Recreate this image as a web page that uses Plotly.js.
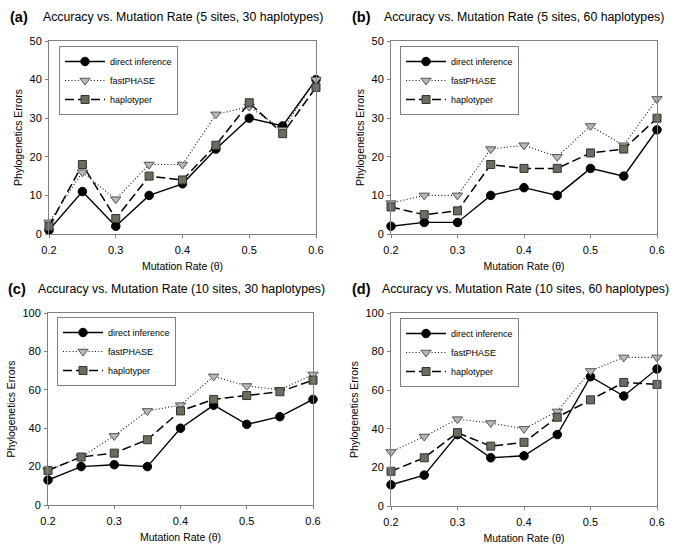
<!DOCTYPE html>
<html><head><meta charset="utf-8">
<script src="https://cdn.plot.ly/plotly-3.0.1.min.js"></script>
<style>html,body{margin:0;padding:0;background:#fff}</style>
</head><body><div id="chart" style="width:685px;height:548px"></div>
<script>
// ---- data ----
const mutationRate = [0.2, 0.25, 0.3, 0.35, 0.4, 0.45, 0.5, 0.55, 0.6];
const seriesNames = ['direct inference', 'fastPHASE', 'haplotyper'];
const panelLabels = ['(a)', '(b)', '(c)', '(d)'];
const panelTitles = [
  'Accuracy vs. Mutation Rate (5 sites, 30 haplotypes)',
  'Accuracy vs. Mutation Rate (5 sites, 60 haplotypes)',
  'Accuracy vs. Mutation Rate (10 sites, 30 haplotypes)',
  'Accuracy vs. Mutation Rate (10 sites, 60 haplotypes)'
];
const xTickVals = [0.2, 0.3, 0.4, 0.5, 0.6];
const yMaxSmall = 50, yMaxLarge = 100;

const directA = [1, 11, 2, 10, 13, 22, 30, 28, 40];
const fastA   = [3, 16, 9, 18, 18, 31, 33, 27, 40];
const haploA  = [2, 18, 4, 15, 14, 23, 34, 26, 38];

const directB = [2, 3, 3, 10, 12, 10, 17, 15, 27];
const fastB   = [8, 10, 10, 22, 23, 20, 28, 23, 35];
const haploB  = [7, 5, 6, 18, 17, 17, 21, 22, 30];

const directC = [13, 20, 21, 20, 40, 52, 42, 46, 55];
const fastC   = [18, 25, 36, 49, 52, 67, 62, 60, 68];
const haploC  = [18, 25, 27, 34, 49, 55, 57, 59, 65];

const directD = [11, 16, 37, 25, 26, 37, 67, 57, 71];
const fastD   = [28, 36, 45, 43, 40, 49, 70, 77, 77];
const haploD  = [18, 25, 38, 31, 33, 46, 55, 64, 63];

const panelData = [
  [directA, fastA, haploA],
  [directB, fastB, haploB],
  [directC, fastC, haploC],
  [directD, fastD, haploD]
];
const panelYMax = [yMaxSmall, yMaxSmall, yMaxLarge, yMaxLarge];

// ---- layout geometry (pixels) ----
const W = 685, H = 548;
const boxes = [
  {l: 49, r: 316, t: 41, b: 234},
  {l: 391, r: 657, t: 41, b: 234},
  {l: 48, r: 313, t: 313, b: 505},
  {l: 391, r: 657, t: 313, b: 506}
];
const legendPos = [
  {x: 59, y: 46}, {x: 400, y: 46}, {x: 57, y: 317}, {x: 400, y: 318}
];
const titleY = [17, 17, 289, 289];
const labelX = [8, 350, 6, 350];
const titleX = [41, 382, 36, 380];
const yTitleStandoff = [4, 4, 4, 4];

const styles = [
  {line: {color: '#000', width: 1.4, dash: 'solid'},
   marker: {symbol: 'circle', size: 8.5, color: '#000', line: {color: '#000', width: 1}}},
  {line: {color: '#111', width: 1.1, dash: '1px,2.2px'},
   marker: {symbol: 'triangle-down', size: 9, color: '#b8b8b8', line: {color: '#555', width: 1}}},
  {line: {color: '#000', width: 1.5, dash: '9px,4px'},
   marker: {symbol: 'square', size: 8, color: '#6d6d5d', line: {color: '#333', width: 1}}}
];

const FONT = 'Liberation Sans, Arial, sans-serif';
const traces = [];
const layout = {
  width: W, height: H,
  margin: {l: 0, r: 0, t: 0, b: 0},
  paper_bgcolor: '#fff', plot_bgcolor: '#fff',
  font: {family: FONT, color: '#000'},
  showlegend: true,
  annotations: [],
  hovermode: false
};

panelData.forEach((series, p) => {
  const n = p + 1;
  const xa = n === 1 ? 'x' : 'x' + n;
  const ya = n === 1 ? 'y' : 'y' + n;
  const lg = n === 1 ? 'legend' : 'legend' + n;
  series.forEach((vals, s) => {
    traces.push({
      type: 'scatter', mode: 'lines+markers',
      x: mutationRate, y: vals, name: seriesNames[s],
      xaxis: xa, yaxis: ya, legend: lg,
      line: styles[s].line, marker: styles[s].marker,
      cliponaxis: false
    });
  });
  const b = boxes[p];
  const axCommon = {
    showline: true, linecolor: '#808080', linewidth: 1, mirror: true,
    ticks: 'outside', ticklen: 3, tickcolor: '#808080', tickwidth: 1,
    showgrid: false, zeroline: false,
    tickfont: {family: FONT, size: 11, color: '#000'}
  };
  layout['xaxis' + (n === 1 ? '' : n)] = Object.assign({}, axCommon, {
    domain: [b.l / W, b.r / W], anchor: ya,
    range: [0.2, 0.6], tickvals: xTickVals, tickformat: '.1f',
    ticklabelstandoff: 3,
    title: {text: 'Mutation Rate (θ)', font: {family: FONT, size: 10.5, color: '#000'}, standoff: 7}
  });
  layout['yaxis' + (n === 1 ? '' : n)] = Object.assign({}, axCommon, {
    domain: [1 - b.b / H, 1 - b.t / H], anchor: xa,
    range: [0, panelYMax[p]], dtick: panelYMax[p] / 5,
    ticklabelstandoff: 1,
    title: {text: 'Phylogenetics Errors', font: {family: FONT, size: 10.5, color: '#000'}, standoff: yTitleStandoff[p]}
  });
  layout[lg] = {
    x: legendPos[p].x / W, y: 1 - legendPos[p].y / H, xanchor: 'left', yanchor: 'top',
    bgcolor: '#fff', bordercolor: '#808080', borderwidth: 1,
    font: {family: FONT, size: 9, color: '#000'}, itemwidth: 40,
    traceorder: 'normal'
  };
  layout.annotations.push({
    xref: 'paper', yref: 'paper', x: labelX[p] / W, y: 1 - titleY[p] / H,
    xanchor: 'left', yanchor: 'middle', showarrow: false,
    text: '<b>' + panelLabels[p] + '</b>', font: {family: FONT, size: 14.5, color: '#000'}
  });
  layout.annotations.push({
    xref: 'paper', yref: 'paper', x: titleX[p] / W, y: 1 - titleY[p] / H,
    xanchor: 'left', yanchor: 'middle', showarrow: false,
    text: panelTitles[p], font: {family: FONT, size: 12.3, color: '#000'}
  });
});

Plotly.newPlot('chart', traces, layout, {displayModeBar: false, staticPlot: true});
</script></body></html>
